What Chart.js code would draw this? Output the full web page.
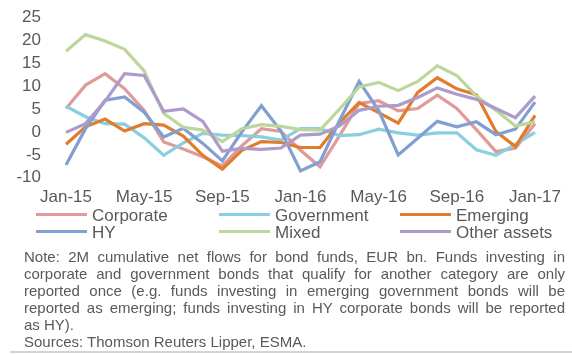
<!DOCTYPE html>
<html>
<head>
<meta charset="utf-8">
<script src="https://cdn.jsdelivr.net/npm/chart.js@4.4.1/dist/chart.umd.min.js"></script>
<style>
    body {
        margin: 0;
        width: 572px;
        height: 354px;
        background: #fff;
        position: relative;
        overflow: hidden;
        font-family: "Liberation Sans", Arial, sans-serif;
        color: #595959;
    }
    /* the y tick padding also pads the plot top/bottom, so the canvas is lifted a bit */
    #flows-chart {
        position: absolute;
        left: 0;
        top: -18px;
    }
    #legend {
        position: absolute;
        left: 36px;
        top: 207px;
        display: grid;
        grid-template-columns: 183px 181px auto;
        font-size: 17px;
        line-height: 17px;
    }
    .legend-item {
        display: flex;
        align-items: center;
        white-space: nowrap;
    }
    .legend-item .swatch {
        width: 51px;
        height: 3px;
        margin-right: 5px;
        margin-top: -2px;
    }
    #note {
        position: absolute;
        left: 24px;
        top: 248px;
        width: 541px;
        font-size: 15px;
        line-height: 17px;
    }
    #note .full {
        text-align: justify;
        text-align-last: justify;
        white-space: nowrap;
    }
    .rule {
        position: absolute;
        left: 10px;
        right: 0;
        top: 351px;
        height: 2px;
        background: #d4d4d4;
    }
</style>
</head>
<body>
<canvas id="flows-chart" width="572" height="231"></canvas>
<div id="legend"></div>
<div id="note">
    <div class="full">Note: 2M cumulative net flows for bond funds, EUR bn. Funds investing in</div>
    <div class="full">corporate and government bonds that qualify for another category are only</div>
    <div class="full">reported once (e.g. funds investing in emerging government bonds will be</div>
    <div class="full">reported as emerging; funds investing in HY corporate bonds will be reported</div>
    <div>as HY).</div>
    <div>Sources: Thomson Reuters Lipper, ESMA.</div>
</div>
<div class="rule"></div>
<script>
// 2M cumulative net flows, EUR bn, Jan-15 to Jan-17
const months = ['Jan-15', 'Feb-15', 'Mar-15', 'Apr-15', 'May-15', 'Jun-15', 'Jul-15', 'Aug-15', 'Sep-15', 'Oct-15', 'Nov-15', 'Dec-15',
    'Jan-16', 'Feb-16', 'Mar-16', 'Apr-16', 'May-16', 'Jun-16', 'Jul-16', 'Aug-16', 'Sep-16', 'Oct-16', 'Nov-16', 'Dec-16', 'Jan-17'];

const corporate = [5.1, 10.2, 12.7, 9.4, 4.7, -2.2, -3.7, -5.4, -7.4, -3.0, 0.7, 0.1, -4.0, -7.6, -0.8, 6.2, 6.8, 4.6, 5.1, 8.0, 5.1, 0.5, -4.3, -3.5, 1.8];
const government = [5.6, 3.3, 1.8, 1.7, -1.3, -5.1, -2.4, -0.3, -0.7, -0.8, -1.1, -1.8, 0.7, 0.7, -0.8, -0.6, 0.6, -0.2, -0.7, -0.2, -0.2, -3.9, -5.1, -2.7, -0.1];
const emerging = [-2.7, 1.1, 2.8, 0.2, 1.8, 1.5, -0.9, -5.1, -8.1, -4.0, -2.1, -2.3, -3.4, -3.4, 2.0, 6.4, 4.2, 1.9, 8.6, 11.8, 9.4, 8.1, 0.1, -3.2, 3.6];
const hy = [-7.2, 0.7, 6.9, 7.6, 4.3, -1.1, 0.8, -2.5, -6.3, 0.0, 5.7, 0.2, -8.5, -6.5, 2.5, 11.0, 4.7, -5.0, -1.4, 2.3, 1.1, 2.2, -0.6, 0.6, 6.5];
const mixed = [17.6, 21.2, 19.8, 18.0, 13.3, 4.0, 1.0, 0.4, -2.1, 0.7, 1.6, 1.2, 0.5, 0.4, 5.0, 9.8, 10.8, 9.0, 11.0, 14.4, 12.3, 7.8, 4.7, 1.3, 2.2];
const otherAssets = [-0.1, 1.8, 6.7, 12.7, 12.3, 4.5, 5.0, 2.3, -4.2, -3.6, -3.8, -3.5, -0.7, -0.5, 1.3, 4.7, 5.6, 5.8, 7.5, 9.6, 8.2, 7.1, 5.1, 3.1, 7.8];

const seriesNames = ['Corporate', 'Government', 'Emerging', 'HY', 'Mixed', 'Other assets'];
const seriesValues = [corporate, government, emerging, hy, mixed, otherAssets];
const seriesColors = ['#e19a9a', '#8acfe0', '#e07c2c', '#819fd2', '#bdd69b', '#ac9bcb'];

const textColor = '#595959';
const axisFont = { family: '"Liberation Sans", Arial, sans-serif', size: 17 };

document.addEventListener('DOMContentLoaded', function() {
    const ctx = document.getElementById('flows-chart').getContext('2d');

    const datasets = seriesNames.map(function(name, i) {
        return {
            label: name,
            data: seriesValues[i],
            borderColor: seriesColors[i],
            borderWidth: 3.2,
            pointRadius: 0,
            tension: 0,
            fill: false,
            // later series sit on top
            order: seriesNames.length - i
        };
    });

    new Chart(ctx, {
        type: 'line',
        data: { labels: months, datasets: datasets },
        options: {
            responsive: false,
            animation: false,
            layout: { padding: { top: 17, right: 37, left: 0, bottom: 0 } },
            plugins: {
                legend: { display: false },
                tooltip: { enabled: false }
            },
            scales: {
                x: {
                    grid: { display: false, drawTicks: false },
                    border: { display: false },
                    ticks: {
                        autoSkip: false,
                        maxRotation: 0,
                        padding: 9,
                        color: textColor,
                        font: axisFont,
                        callback: function(value, index) {
                            return index % 4 === 0 ? months[index] : '';
                        }
                    },
                    afterFit: function(scale) { scale.height = 32; }
                },
                y: {
                    min: -10,
                    max: 25,
                    grid: { display: false, drawTicks: false },
                    border: { display: false },
                    ticks: {
                        stepSize: 5,
                        padding: 25,
                        color: textColor,
                        font: axisFont
                    },
                    afterFit: function(scale) { scale.width = 66; }
                }
            }
        }
    });

    // three-column legend underneath the plot
    const legend = document.getElementById('legend');
    seriesNames.forEach(function(name, i) {
        const item = document.createElement('div');
        item.className = 'legend-item';
        const swatch = document.createElement('span');
        swatch.className = 'swatch';
        swatch.style.background = seriesColors[i];
        const label = document.createElement('span');
        label.textContent = name;
        item.appendChild(swatch);
        item.appendChild(label);
        legend.appendChild(item);
    });
});
</script>
</body>
</html>
